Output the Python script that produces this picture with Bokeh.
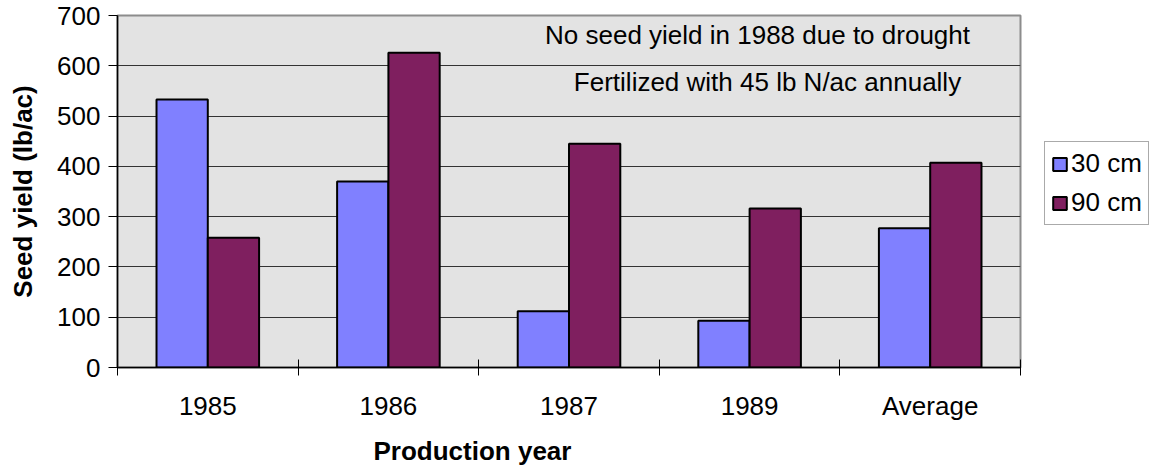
from bokeh.plotting import figure
from bokeh.models import ColumnDataSource, FixedTicker, Range1d, Label, Legend, LegendItem, Title
from bokeh.embed import file_html
from bokeh.resources import INLINE

# ---- data ----
years = ["1985", "1986", "1987", "1989", "Average"]
yield_30cm = [533, 370, 112, 93, 277]
yield_90cm = [258, 626, 445, 316, 407]
series_names = ["30 cm", "90 cm"]
y_ticks = [0, 100, 200, 300, 400, 500, 600, 700]
notes = ["No seed yield in 1988 due to drought", "Fertilized with 45 lb N/ac annually"]

FONT = "Liberation Sans"
C30 = "#8080FF"
C90 = "#7F1F5F"

L, R, T, B = 117, 120, 15, 99
FW, FH = 903, 352

centers = [i + 0.5 for i in range(len(years))]
bw = 0.284
src = ColumnDataSource(dict(
    x30=[c - bw / 2 for c in centers],
    x90=[c + bw / 2 for c in centers],
    y30=yield_30cm,
    y90=yield_90cm,
))

p = figure(frame_width=FW, frame_height=FH, output_backend="svg", toolbar_location=None,
           x_range=Range1d(0, len(years)), y_range=Range1d(0, 700),
           min_border_left=L, min_border_right=R, min_border_top=T, min_border_bottom=B)
p.background_fill_color = "#E3E3E3"
p.border_fill_color = "white"
p.outline_line_color = "#8C8C8C"
p.outline_line_width = 2

r30 = p.vbar(x="x30", top="y30", width=bw, bottom=0, source=src,
             fill_color=C30, line_color="black", line_width=2)
r90 = p.vbar(x="x90", top="y90", width=bw, bottom=0, source=src,
             fill_color=C90, line_color="black", line_width=2)

# x axis: labels at centres, tick marks at category boundaries
xa = p.xaxis[0]
xa.ticker = FixedTicker(ticks=centers, minor_ticks=list(range(len(years) + 1)))
xa.major_label_overrides = {c: y for c, y in zip(centers, years)}
xa.major_tick_out = 0
xa.major_tick_in = 0
xa.minor_tick_out = 8
xa.minor_tick_in = 8
xa.minor_tick_line_color = "black"
xa.minor_tick_line_width = 1
xa.axis_line_color = "black"
xa.axis_line_width = 1.5
xa.major_label_text_font = FONT
xa.major_label_text_font_size = "26px"
xa.major_label_text_color = "black"
xa.major_label_standoff = 15

ya = p.yaxis[0]
ya.ticker = FixedTicker(ticks=y_ticks)
ya.minor_tick_line_color = None
ya.major_tick_out = 9
ya.major_tick_in = 0
ya.major_tick_line_color = "black"
ya.axis_line_color = "black"
ya.axis_line_width = 1.5
ya.major_label_text_font = FONT
ya.major_label_text_font_size = "26px"
ya.major_label_text_color = "black"
ya.major_label_standoff = 8
ya.axis_label = "Seed yield (lb/ac)"
ya.axis_label_text_font = FONT
ya.axis_label_text_font_size = "26px"
ya.axis_label_text_font_style = "bold"
ya.axis_label_text_color = "black"
ya.axis_label_standoff = 16

p.xgrid.grid_line_color = None
p.ygrid.grid_line_color = "#333333"
p.ygrid.grid_line_width = 1
p.ygrid.ticker = FixedTicker(ticks=y_ticks)

# x axis title (off-centre, as in reference)
xt = Title(text="Production year", align="left", offset=256, standoff=20,
           text_font=FONT, text_font_size="26px", text_font_style="bold",
           text_color="black")
p.add_layout(xt, "below")

# notes
p.add_layout(Label(x=640, y=333, x_units="screen", y_units="screen", text=notes[0],
                   text_align="center", text_baseline="alphabetic", text_font=FONT,
                   text_font_size="26px", text_color="black"))
p.add_layout(Label(x=650, y=286, x_units="screen", y_units="screen", text=notes[1],
                   text_align="center", text_baseline="alphabetic", text_font=FONT,
                   text_font_size="26px", text_color="black"))

legend = Legend(items=[LegendItem(label=series_names[0], renderers=[r30]),
                       LegendItem(label=series_names[1], renderers=[r90])],
                location=(24, 142))
legend.label_text_font = FONT
legend.label_text_font_size = "26px"
legend.label_text_color = "black"
legend.glyph_width = 17
legend.glyph_height = 16
legend.label_standoff = 3
legend.spacing = 8
legend.padding = 6
legend.margin = 24
legend.border_line_color = "#555555"
legend.border_line_width = 1
legend.background_fill_color = "white"
legend.background_fill_alpha = 1
p.add_layout(legend, "right")

open("out.html", "w").write(file_html(p, INLINE))
